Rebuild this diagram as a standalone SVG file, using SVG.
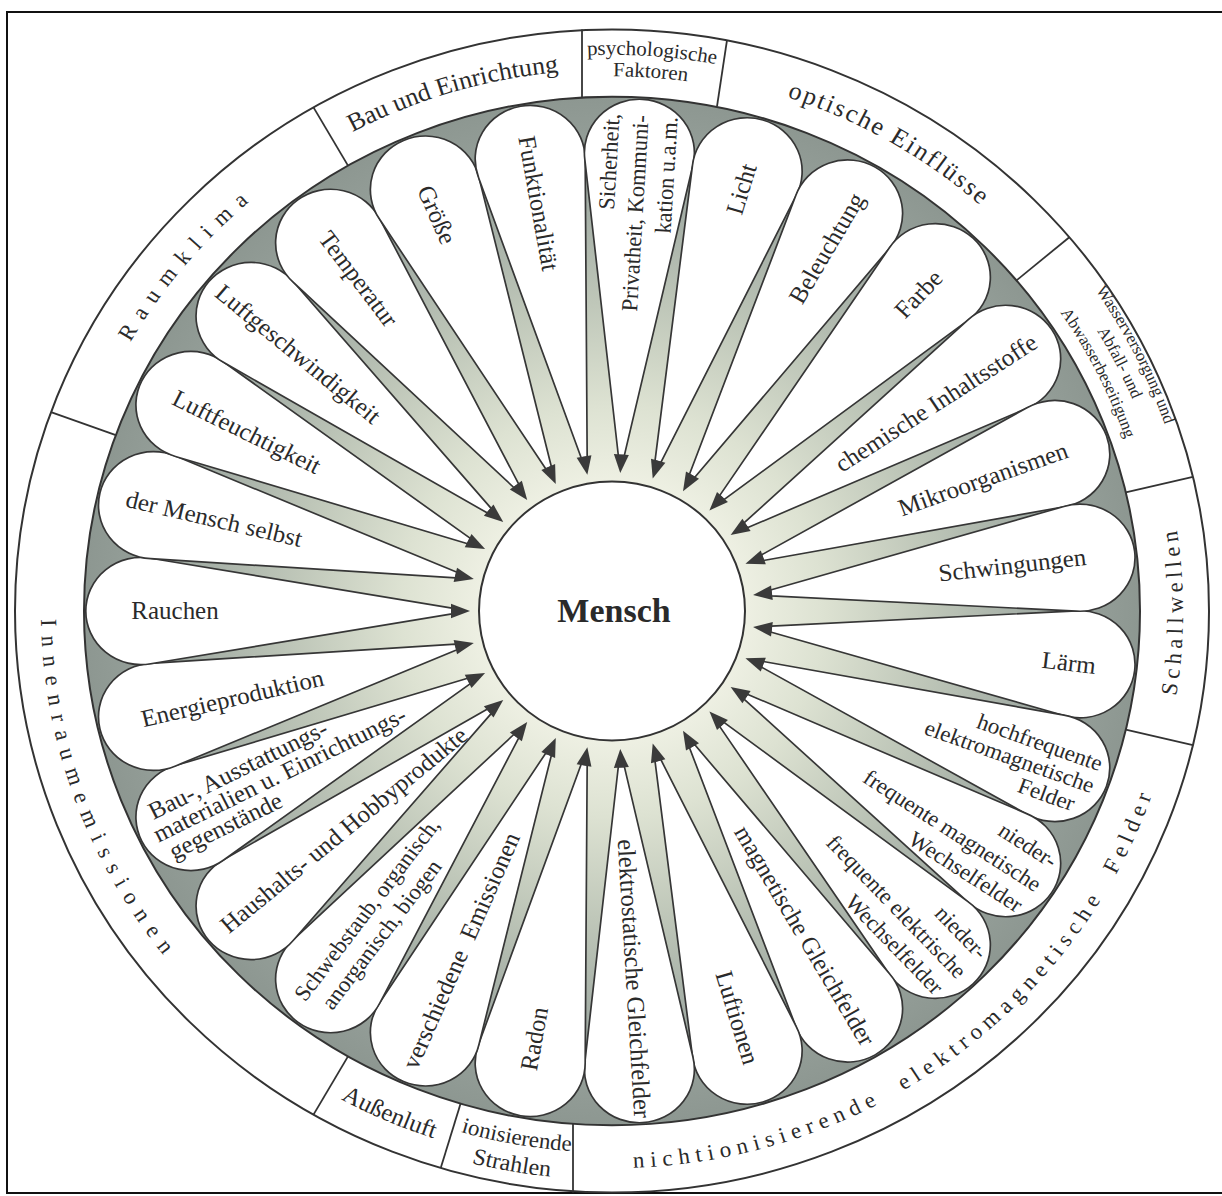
<svg xmlns="http://www.w3.org/2000/svg" width="1222" height="1196" viewBox="0 0 1222 1196">
<defs>
<style>
.lbl{font-family:"Liberation Serif","Times New Roman",serif;fill:#2a2a2a;font-size:25px}
.ml{font-size:23px}
.ring{font-family:"Liberation Serif","Times New Roman",serif;fill:#2a2a2a}
.petal{fill:#fff;stroke:#363636;stroke-width:1.7;stroke-linejoin:round}
.sep{stroke:#333;stroke-width:1.8;fill:none}
.head{fill:#3a3a3a}
</style>
<radialGradient id="shade" gradientUnits="userSpaceOnUse" cx="0" cy="0" r="528">
<stop offset="0.25" stop-color="#eef0e3"/>
<stop offset="0.40" stop-color="#dde2d2"/>
<stop offset="0.60" stop-color="#bfc7b9"/>
<stop offset="0.80" stop-color="#a2aca4"/>
<stop offset="0.92" stop-color="#939d97"/>
<stop offset="1" stop-color="#8d9791"/>
</radialGradient>
<path id="petalShape" d="M160,-3 L461.3,-54.1 A55,55 0 1,1 461.3,54.1 L160,3 Z"/>
<path id="arrowHead" d="M142,0 L161,-7.5 L161,7.5 Z"/>
<path id="arcRaum" d="M-546.57,-96.37 A555,555 0 0,1 -189.82,-521.53"/>
<path id="arcBau" d="M-332.02,-445.98 A556,556 0 0,1 32.33,-555.06"/>
<path id="arcPsy1" d="M-157.39,-548.88 A571,571 0 0,1 232.25,-521.64"/>
<path id="arcPsy2" d="M-151.33,-527.73 A549,549 0 0,1 223.30,-501.54"/>
<path id="arcOpt" d="M0,-556 A556,556 0 0,1 481.51,-278"/>
<path id="arcWas1" d="M401.45,-425.51 A585,585 0 0,1 581.04,-67.95"/>
<path id="arcWas2" d="M387.04,-410.23 A564,564 0 0,1 560.18,-65.52"/>
<path id="arcWas3" d="M372.63,-394.96 A543,543 0 0,1 539.32,-63.08"/>
<path id="arcSchall" d="M494.51,285.5 A571,571 0 0,0 494.51,-285.5"/>
<path id="arcNicht" d="M-226.56,525.22 A572,572 0 0,0 568.13,-66.44"/>
<path id="arcAussen" d="M-457.21,340.38 A570,570 0 0,0 66.21,566.14"/>
<path id="arcIon1" d="M-357.39,425.92 A556,556 0 0,0 190.16,522.47"/>
<path id="arcIon2" d="M-375.39,447.37 A584,584 0 0,0 199.74,548.78"/>
<path id="arcInnen" d="M-437.41,-367.03 A571,571 0 0,0 -99.15,562.33"/>
</defs>
<rect x="0" y="0" width="1222" height="1196" fill="#fff"/>
<rect x="7" y="12" width="1240" height="1181" fill="none" stroke="#111" stroke-width="2"/>
<g transform="translate(612,611) scale(1,0.974)">
<circle r="597" fill="#fff" stroke="#333" stroke-width="2"/>
<circle r="528" fill="url(#shade)" stroke="#333" stroke-width="2"/>
<g id="ring-separators">
<line class="sep" x1="-496.16" y1="-180.59" x2="-561.00" y2="-204.19"/>
<line class="sep" x1="-264" y1="-457.26" x2="-298.5" y2="-517.02"/>
<line class="sep" x1="-30" y1="-527" x2="-30" y2="-597"/>
<line class="sep" x1="105" y1="-518" x2="115" y2="-586"/>
<line class="sep" x1="404.47" y1="-339.39" x2="457.33" y2="-383.75"/>
<line class="sep" x1="513.77" y1="-121.76" x2="580.90" y2="-137.67"/>
<line class="sep" x1="513.77" y1="121.76" x2="580.90" y2="137.67"/>
<line class="sep" x1="-39" y1="526.5" x2="-39" y2="597"/>
<line class="sep" x1="-151.47" y1="505.81" x2="-171.27" y2="571.91"/>
<line class="sep" x1="-264" y1="457.26" x2="-298.5" y2="517.02"/>
</g>
<g id="ring-labels">
<text class="ring" font-size="23" letter-spacing="10" text-anchor="middle"><textPath href="#arcRaum" startOffset="50%">Raumklima</textPath></text>
<text class="ring" font-size="26" text-anchor="middle"><textPath href="#arcBau" startOffset="50%">Bau und Einrichtung</textPath></text>
<text class="ring" font-size="21" text-anchor="middle"><textPath href="#arcPsy1" startOffset="50%">psychologische</textPath><textPath href="#arcPsy2" startOffset="50%">Faktoren</textPath></text>
<text class="ring" font-size="26" letter-spacing="2" text-anchor="middle"><textPath href="#arcOpt" startOffset="50%">optische Einflüsse</textPath></text>
<text class="ring" font-size="17" text-anchor="middle"><textPath href="#arcWas1" startOffset="50%">Wasserversorgung&#160;und</textPath><textPath href="#arcWas2" startOffset="50%">Abfall-&#160;und</textPath><textPath href="#arcWas3" startOffset="50%">Abwasserbeseitigung</textPath></text>
<text class="ring" font-size="23" letter-spacing="4.7" text-anchor="middle"><textPath href="#arcSchall" startOffset="50%">Schallwellen</textPath></text>
<text class="ring" font-size="23" letter-spacing="6" word-spacing="12" text-anchor="middle"><textPath href="#arcNicht" startOffset="50%">nichtionisierende elektromagnetische Felder</textPath></text>
<text class="ring" font-size="25" text-anchor="middle"><textPath href="#arcAussen" startOffset="50%">Außenluft</textPath></text>
<text class="ring" font-size="23" text-anchor="middle"><textPath href="#arcIon1" startOffset="50%">ionisierende</textPath><textPath href="#arcIon2" startOffset="50%" font-size="24">Strahlen</textPath></text>
<text class="ring" font-size="23" letter-spacing="9.4" text-anchor="middle"><textPath href="#arcInnen" startOffset="50%">Innenraumemissionen</textPath></text>
</g>
<g id="p-laerm" transform="rotate(6.667)"><use href="#petalShape" class="petal"/><text class="lbl" transform="translate(460,0)" y="8" text-anchor="middle">Lärm</text></g>
<g id="p-hochfrequent" transform="rotate(20)"><use href="#petalShape" class="petal"/><text class="lbl ml" transform="translate(514,0)" text-anchor="end"><tspan x="0" y="-12">hochfrequente</tspan><tspan x="0" y="12">elektromagnetische</tspan><tspan x="-12" y="36">Felder</tspan></text></g>
<g id="p-nf-magnetisch" transform="rotate(33.333)"><use href="#petalShape" class="petal"/><text class="lbl ml" transform="translate(512,0)" text-anchor="end"><tspan x="0" y="-20">nieder-</tspan><tspan x="0" y="9">frequente magnetische</tspan><tspan x="-4" y="37">Wechselfelder</tspan></text></g>
<g id="p-nf-elektrisch" transform="rotate(46.667)"><use href="#petalShape" class="petal"/><text class="lbl ml" transform="translate(512,0)" text-anchor="end"><tspan x="0" y="-20">nieder-</tspan><tspan x="0" y="9">frequente elektrische</tspan><tspan x="-4" y="37">Wechselfelder</tspan></text></g>
<g id="p-magn-gleich" transform="rotate(60)"><use href="#petalShape" class="petal"/><text class="lbl" transform="translate(385,0)" y="8" text-anchor="middle">magnetische Gleichfelder</text></g>
<g id="p-luftionen" transform="rotate(73.333)"><use href="#petalShape" class="petal"/><text class="lbl" transform="translate(436,0)" y="8" text-anchor="middle">Luftionen</text></g>
<g id="p-elektrostatisch" transform="rotate(86.667)"><use href="#petalShape" class="petal"/><text class="lbl" transform="translate(378,0)" y="8" text-anchor="middle">elektrostatische Gleichfelder</text></g>
<g id="p-radon" transform="rotate(100)"><use href="#petalShape" class="petal"/><text class="lbl" transform="translate(446,0) rotate(180)" y="8" text-anchor="middle">Radon</text></g>
<g id="p-emissionen" transform="rotate(113.333)"><use href="#petalShape" class="petal"/><text class="lbl" transform="translate(380,0) rotate(180)" y="8" word-spacing="8" text-anchor="middle">verschiedene Emissionen</text></g>
<g id="p-schwebstaub" transform="rotate(126.667)"><use href="#petalShape" class="petal"/><text class="lbl ml" transform="translate(392,0) rotate(180)" text-anchor="middle"><tspan x="0" y="-6">Schwebstaub, organisch,</tspan><tspan x="-12" y="21">anorganisch, biogen</tspan></text></g>
<g id="p-haushalt" transform="rotate(140)"><use href="#petalShape" class="petal"/><text class="lbl" transform="translate(350,0) rotate(180)" y="8" text-anchor="middle">Haushalts- und Hobbyprodukte</text></g>
<g id="p-baumaterial" transform="rotate(153.333)"><use href="#petalShape" class="petal"/><text class="lbl" font-size="20" transform="translate(506,0) rotate(180)" text-anchor="start"><tspan x="0" y="-14">Bau-, Ausstattungs-</tspan><tspan x="-6" y="9">materialien u. Einrichtungs-</tspan><tspan x="0" y="32">gegenstände</tspan></text></g>
<g id="p-energie" transform="rotate(166.667)"><use href="#petalShape" class="petal"/><text class="lbl" transform="translate(390,0) rotate(180)" y="8" text-anchor="middle">Energieproduktion</text></g>
<g id="p-rauchen" transform="rotate(180)"><use href="#petalShape" class="petal"/><text class="lbl" transform="translate(437,0) rotate(180)" y="8" text-anchor="middle">Rauchen</text></g>
<g id="p-mensch-selbst" transform="rotate(193.333)"><use href="#petalShape" class="petal"/><text class="lbl" transform="translate(409,0) rotate(180)" y="8" text-anchor="middle">der Mensch selbst</text></g>
<g id="p-luftfeuchte" transform="rotate(206.667)"><use href="#petalShape" class="petal"/><text class="lbl" transform="translate(409,0) rotate(180)" y="8" text-anchor="middle">Luftfeuchtigkeit</text></g>
<g id="p-luftgeschw" transform="rotate(220)"><use href="#petalShape" class="petal"/><text class="lbl" transform="translate(410,0) rotate(180)" y="8" text-anchor="middle">Luftgeschwindigkeit</text></g>
<g id="p-temperatur" transform="rotate(233.333)"><use href="#petalShape" class="petal"/><text class="lbl" transform="translate(425,0) rotate(180)" y="8" text-anchor="middle">Temperatur</text></g>
<g id="p-groesse" transform="rotate(246.667)"><use href="#petalShape" class="petal"/><text class="lbl" transform="translate(443,0) rotate(180)" y="8" text-anchor="middle">Größe</text></g>
<g id="p-funktion" transform="rotate(260)"><use href="#petalShape" class="petal"/><text class="lbl" transform="translate(425,0) rotate(180)" y="8" text-anchor="middle">Funktionalität</text></g>
<g id="p-sicherheit" transform="rotate(273.333)"><use href="#petalShape" class="petal"/><text class="lbl ml" transform="translate(510,0)" text-anchor="end"><tspan x="0" y="-22">Sicherheit,</tspan><tspan x="0" y="7">Privatheit, Kommuni-</tspan><tspan x="0" y="36">kation u.a.m.</tspan></text></g>
<g id="p-licht" transform="rotate(286.667)"><use href="#petalShape" class="petal"/><text class="lbl" transform="translate(452,0)" y="8" text-anchor="middle">Licht</text></g>
<g id="p-beleuchtung" transform="rotate(300)"><use href="#petalShape" class="petal"/><text class="lbl" transform="translate(430,0)" y="8" text-anchor="middle">Beleuchtung</text></g>
<g id="p-farbe" transform="rotate(313.333)"><use href="#petalShape" class="petal"/><text class="lbl" transform="translate(447,0)" y="8" text-anchor="middle">Farbe</text></g>
<g id="p-chemisch" transform="rotate(326.667)"><use href="#petalShape" class="petal"/><text class="lbl" transform="translate(388,0)" y="8" text-anchor="middle">chemische Inhaltsstoffe</text></g>
<g id="p-mikro" transform="rotate(340)"><use href="#petalShape" class="petal"/><text class="lbl" transform="translate(395,0)" y="8" text-anchor="middle">Mikroorganismen</text></g>
<g id="p-schwingungen" transform="rotate(353.333)"><use href="#petalShape" class="petal"/><text class="lbl" transform="translate(403,0)" y="8" text-anchor="middle">Schwingungen</text></g>
<g id="connectors">
<use href="#arrowHead" class="head" transform="rotate(6.667)"/>
<use href="#arrowHead" class="head" transform="rotate(20)"/>
<use href="#arrowHead" class="head" transform="rotate(33.333)"/>
<use href="#arrowHead" class="head" transform="rotate(46.667)"/>
<use href="#arrowHead" class="head" transform="rotate(60)"/>
<use href="#arrowHead" class="head" transform="rotate(73.333)"/>
<use href="#arrowHead" class="head" transform="rotate(86.667)"/>
<use href="#arrowHead" class="head" transform="rotate(100)"/>
<use href="#arrowHead" class="head" transform="rotate(113.333)"/>
<use href="#arrowHead" class="head" transform="rotate(126.667)"/>
<use href="#arrowHead" class="head" transform="rotate(140)"/>
<use href="#arrowHead" class="head" transform="rotate(153.333)"/>
<use href="#arrowHead" class="head" transform="rotate(166.667)"/>
<use href="#arrowHead" class="head" transform="rotate(180)"/>
<use href="#arrowHead" class="head" transform="rotate(193.333)"/>
<use href="#arrowHead" class="head" transform="rotate(206.667)"/>
<use href="#arrowHead" class="head" transform="rotate(220)"/>
<use href="#arrowHead" class="head" transform="rotate(233.333)"/>
<use href="#arrowHead" class="head" transform="rotate(246.667)"/>
<use href="#arrowHead" class="head" transform="rotate(260)"/>
<use href="#arrowHead" class="head" transform="rotate(273.333)"/>
<use href="#arrowHead" class="head" transform="rotate(286.667)"/>
<use href="#arrowHead" class="head" transform="rotate(300)"/>
<use href="#arrowHead" class="head" transform="rotate(313.333)"/>
<use href="#arrowHead" class="head" transform="rotate(326.667)"/>
<use href="#arrowHead" class="head" transform="rotate(340)"/>
<use href="#arrowHead" class="head" transform="rotate(353.333)"/>
</g>
<g id="mensch">
<circle r="133" fill="#fff" stroke="#333" stroke-width="2"/>
<text x="2" y="11" font-family="Liberation Serif, Times New Roman, serif" font-weight="bold" font-size="34" fill="#2a2a2a" text-anchor="middle">Mensch</text>
</g>
</g>
</svg>
